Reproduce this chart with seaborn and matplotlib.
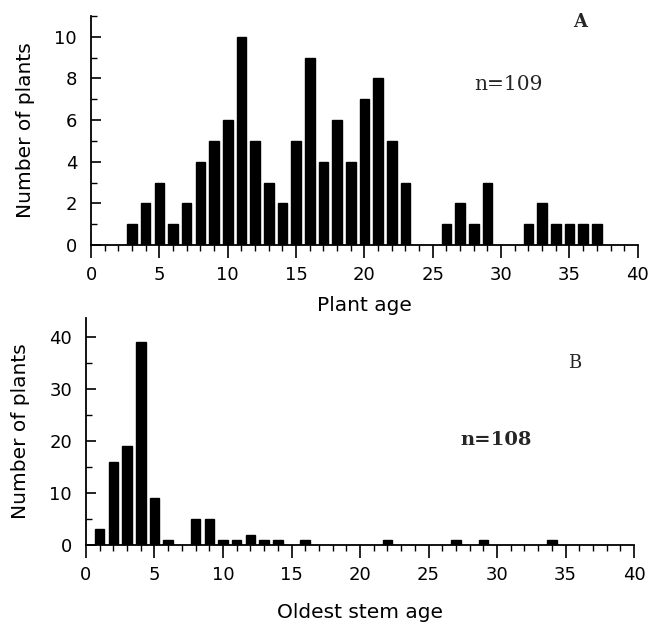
import numpy as np
import pandas as pd
import matplotlib
matplotlib.use("Agg")
import matplotlib.pyplot as plt
import seaborn as sns
from matplotlib.ticker import MultipleLocator

# Panel A: plant age distribution
plant_age = [3, 4, 5, 6, 7, 8, 9, 10, 11, 12, 13, 14, 15, 16, 17, 18, 19, 20, 21, 22, 23,
             26, 27, 28, 29, 32, 33, 34, 35, 36, 37]
plant_count = [1, 2, 3, 1, 2, 4, 5, 6, 10, 5, 3, 2, 5, 9, 4, 6, 4, 7, 8, 5, 3,
               1, 2, 1, 3, 1, 2, 1, 1, 1, 1]

# Panel B: oldest stem age distribution
stem_age = [1, 2, 3, 4, 5, 6, 8, 9, 10, 11, 12, 13, 14, 16, 22, 27, 29, 34]
stem_count = [3, 16, 19, 39, 9, 1, 5, 5, 1, 1, 2, 1, 1, 1, 1, 1, 1, 1]

x_ticks = [0, 5, 10, 15, 20, 25, 30, 35, 40]

sns.set_style("ticks")
plt.rcParams['font.family'] = ['DejaVu Sans']
plt.rcParams['ytick.direction'] = 'in'
plt.rcParams['xtick.direction'] = 'out'

fig = plt.figure(figsize=(6.51, 6.25), dpi=100)
axA = fig.add_axes([0.1398, 0.608, 0.840, 0.3664])
axB = fig.add_axes([0.1321, 0.128, 0.8418, 0.3632])
axA.patch.set_alpha(0)
axB.patch.set_alpha(0)

dfA = pd.DataFrame({"age": plant_age, "count": plant_count})
dfB = pd.DataFrame({"age": stem_age, "count": stem_count})

sns.barplot(data=dfA, x="age", y="count", native_scale=True, width=0.7,
            color="black", edgecolor="black", ax=axA, saturation=1)
sns.barplot(data=dfB, x="age", y="count", native_scale=True, width=0.7,
            color="black", edgecolor="black", ax=axB, saturation=1)

def style(ax, ymax, ymaj, ymin, xlabel, xpad):
    ax.set_xlim(0, 40)
    ax.set_ylim(0, ymax)
    ax.set_xticks(x_ticks)
    ax.set_xticklabels([str(t) for t in x_ticks])
    ax.xaxis.set_minor_locator(MultipleLocator(1))
    ax.yaxis.set_major_locator(MultipleLocator(ymaj))
    ax.yaxis.set_minor_locator(MultipleLocator(ymin))
    for s in ["top", "right"]:
        ax.spines[s].set_visible(False)
    for s in ["left", "bottom"]:
        ax.spines[s].set_linewidth(1.3)
        ax.spines[s].set_color("black")
    ax.tick_params(axis="x", which="major", direction="out", length=9, width=1.2,
                   labelsize=13, pad=6, colors="black")
    ax.tick_params(axis="x", which="minor", direction="out", length=4, width=1.0,
                   colors="black")
    ax.tick_params(axis="y", which="major", direction="in", length=7, width=1.2,
                   labelsize=13, pad=10, colors="black", left=True)
    ax.tick_params(axis="y", which="minor", direction="in", length=4, width=1.0,
                   colors="black", left=True)
    ax.set_xlabel(xlabel, fontsize=14.5, labelpad=xpad, color="black")
    ax.set_ylabel("Number of plants", fontsize=14.5, labelpad=14, color="black")
    ax.grid(False)

style(axA, 11, 2, 1, "Plant age", 9)
style(axB, 43.6, 10, 5, "Oldest stem age", 14)

axA.text(35.8, 10.7, "A", fontsize=13, fontweight="bold", family="DejaVu Serif",
         ha="center", va="center")
axA.text(30.5, 7.7, "n=109", fontsize=14.5, family="DejaVu Serif",
         ha="center", va="center")
axB.text(35.7, 35, "B", fontsize=13, family="DejaVu Serif",
         ha="center", va="center")
axB.text(29.9, 20.2, "n=108", fontsize=14, fontweight="bold", family="DejaVu Serif",
         ha="center", va="center")

fig.savefig("out.png", dpi=100, facecolor="white")
